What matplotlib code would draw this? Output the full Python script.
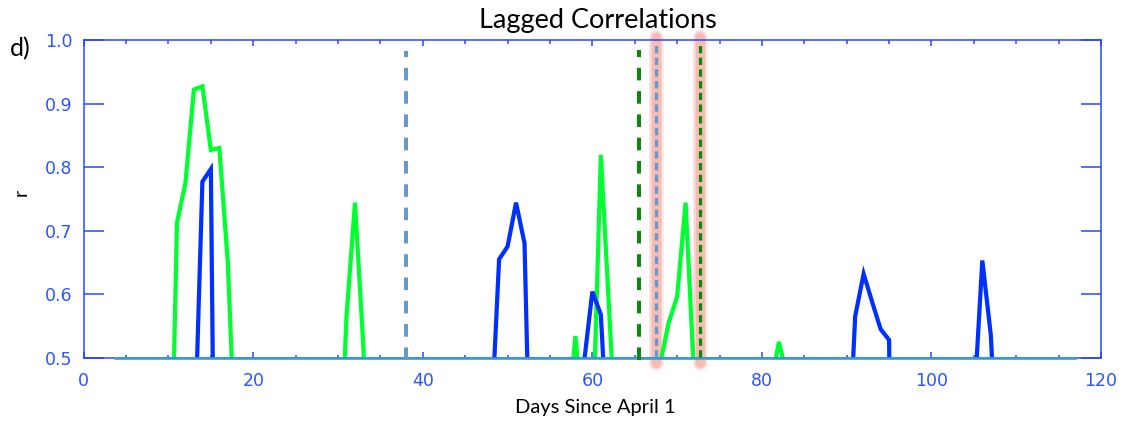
import matplotlib
matplotlib.use("Agg")
import matplotlib.pyplot as plt
from matplotlib.ticker import MultipleLocator, FormatStrFormatter

# ---------------- data ----------------
green_days = [10, 11, 12, 13, 14, 15, 16, 17, 18,
              30, 31, 32, 33, 34,
              57, 58, 59,
              60, 61, 62, 63,
              67, 68, 69, 70, 71, 72, 73,
              81, 82, 83]
green_r = [0.10, 0.712, 0.775, 0.922, 0.927, 0.827, 0.830, 0.650, 0.32,
           0.24, 0.565, 0.744, 0.515, 0.00,
           0.39, 0.534, 0.39,
           0.36, 0.819, 0.57, 0.32,
           0.00, 0.49, 0.555, 0.596, 0.744, 0.47, 0.00,
           0.45, 0.525, 0.47]

blue_days = [13, 14, 15, 16,
             48, 49, 50, 51, 52, 53,
             58, 59, 60, 61, 62,
             90, 91, 92, 93, 94, 95, 96,
             105, 106, 107, 108]
blue_r = [0.33, 0.777, 0.797, -0.55,
          0.375, 0.655, 0.675, 0.744, 0.680, 0.12,
          0.00, 0.49, 0.604, 0.568, 0.32,
          0.28, 0.565, 0.632, 0.588, 0.545, 0.528, -0.50,
          0.42, 0.653, 0.536, 0.28]

base_days = [3.7, 116.9]
base_r = [0.5, 0.5]

event_days_steel = [38.0, 67.45]
event_days_green = [65.5, 72.7]
highlight_days = [67.45, 72.7]

x_ticks = [0, 20, 40, 60, 80, 100, 120]
y_ticks = [0.5, 0.6, 0.7, 0.8, 0.9, 1.0]

# ---------------- styling ----------------
W, H, DPI = 1131, 423, 100
PX = 72.0 / DPI  # points per pixel
AXC = '#2244ff'
LABC = '#2a55ff'

plt.rcParams['lines.scale_dashes'] = False

fig = plt.figure(figsize=(W / DPI, H / DPI), dpi=DPI)
ax = fig.add_axes([83.7 / W, 1 - 357.7 / H, (1101 - 83.7) / W, (357.7 - 40) / H])

ax.set_xlim(0, 120)
ax.set_ylim(0.5, 1.0)

# highlight glow behind two of the event lines
for d in highlight_days:
    for w, a in [(15, 0.20), (12, 0.28), (9, 0.42)]:
        ax.plot([d, d], [0.4915, 1.0055], color='#f39a8c', lw=w * PX, alpha=a,
                solid_capstyle='round', clip_on=False, zorder=1)

ax.plot(green_days, green_r, color='#00ff30', lw=4.2 * PX, zorder=2,
        solid_joinstyle='miter')
ax.plot(blue_days, blue_r, color='#0030ff', lw=4.2 * PX, zorder=2.1,
        solid_joinstyle='miter')
ax.plot(base_days, base_r, color='#3b9ad0', lw=2.6 * PX, zorder=3, clip_on=False)

# event dashed lines
for d in event_days_steel:
    hl = d in highlight_days
    ln, = ax.plot([d, d], [0.501, 0.995] if hl else [0.4965, 0.983],
                  color='#6699cc', lw=(3.2 if hl else 4) * PX, clip_on=False, zorder=4)
    ln.set_dashes((7.3 * PX, 4.4 * PX) if hl else (12.6 * PX, 10.7 * PX))
for d in event_days_green:
    hl = d in highlight_days
    ln, = ax.plot([d, d], [0.501, 0.995] if hl else [0.4965, 0.984],
                  color='#0a8a0a', lw=(3.2 if hl else 4) * PX, clip_on=False, zorder=4)
    ln.set_dashes((7.3 * PX, 4.4 * PX) if hl else (12.6 * PX, 10.7 * PX))

# axes frame and ticks
for s in ax.spines.values():
    s.set_color(AXC)
    s.set_linewidth(1.5 * PX)

ax.set_xticks(x_ticks)
ax.xaxis.set_minor_locator(MultipleLocator(5))
ax.set_yticks(y_ticks)
ax.yaxis.set_major_formatter(FormatStrFormatter('%.1f'))

ax.tick_params(axis='x', which='major', direction='in', top=True, bottom=True,
               length=6 * PX, width=1.5 * PX, color=AXC, labelcolor=LABC,
               labelsize=12.5, pad=10)
ax.tick_params(axis='x', which='minor', direction='in', top=True, bottom=True,
               length=3.5 * PX, width=1.5 * PX, color=AXC)
ax.tick_params(axis='y', which='major', direction='in', left=True, right=True,
               length=20 * PX, width=1.5 * PX, color=AXC, labelcolor=LABC,
               labelsize=12.5, pad=8)
for lab in ax.get_xticklabels() + ax.get_yticklabels():
    lab.set_fontfamily('DejaVu Sans')

# texts
fig.text(598 / W, 1 - 28 / H, 'Lagged Correlations', ha='center', va='baseline',
         fontsize=19.5, family='Lato', color='black')
fig.text(595 / W, 1 - 413 / H, 'Days Since April 1', ha='center', va='baseline',
         fontsize=14.5, family='Lato', color='black')
fig.text(10 / W, 1 - 56 / H, 'd)', ha='left', va='baseline',
         fontsize=18, family='Lato', color='black')
fig.text(21 / W, 1 - 192 / H, 'r', ha='center', va='center', rotation=90,
         fontsize=14, family='Lato', color='black')

fig.savefig('out.png', dpi=DPI)
